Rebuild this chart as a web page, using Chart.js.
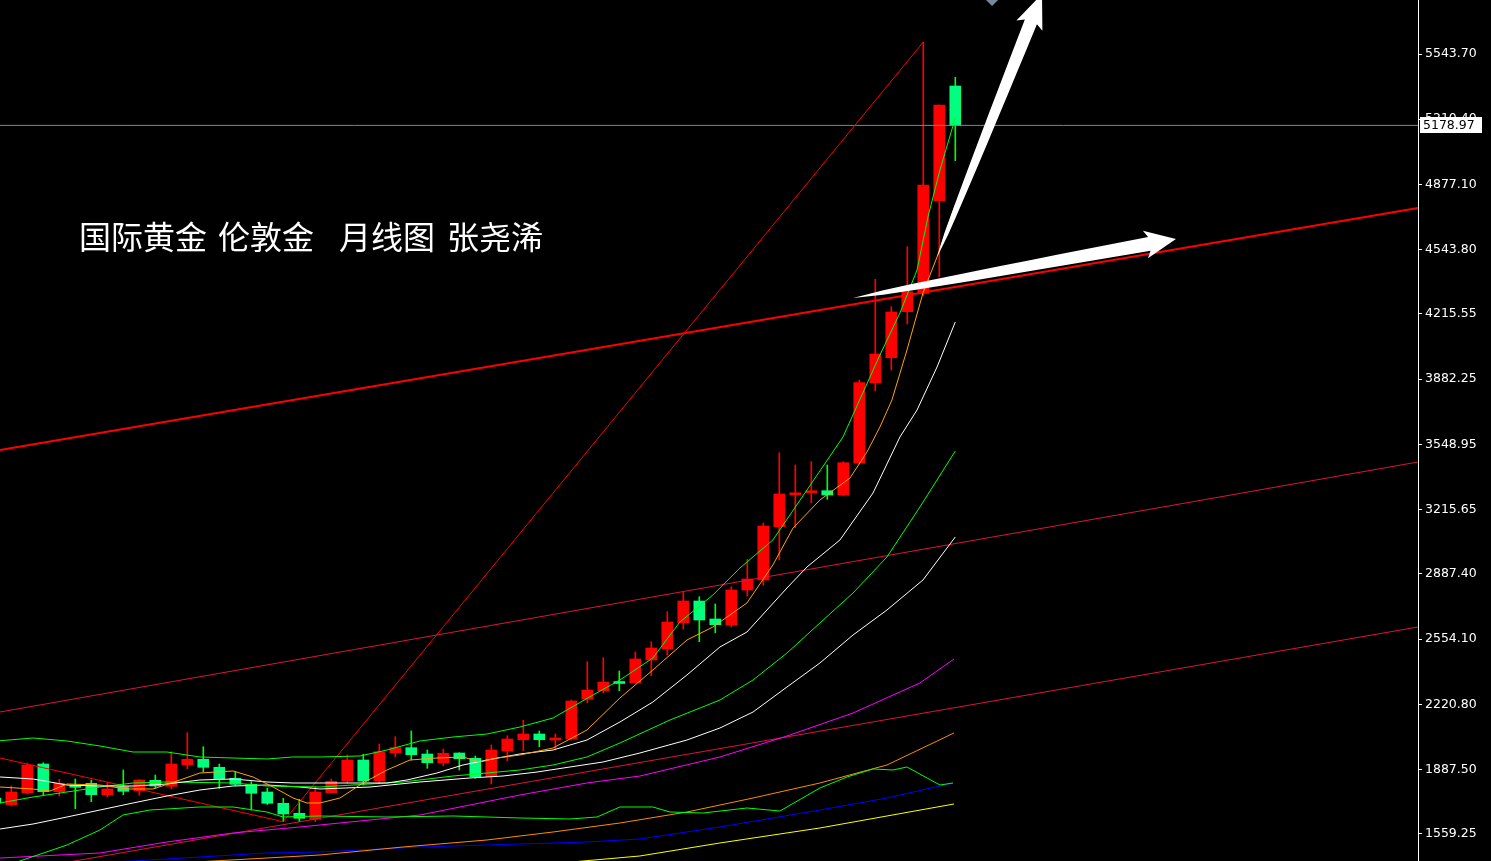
<!DOCTYPE html>
<html>
<head>
<meta charset="utf-8">
<script src="https://cdn.jsdelivr.net/npm/chart.js@4.4.1/dist/chart.umd.min.js"></script>
<style>
html,body{margin:0;padding:0;background:#000;overflow:hidden;}
#wrap{position:relative;width:1491px;height:861px;}
</style>
</head>
<body>
<div id="wrap"><canvas id="gold"></canvas></div>
<script>
// monthly candles, first entry sits at index -1 (partly hidden), last one is the running month
var opens  = [1743.1,1708.9,1770.2,1916.8,1775.3,1804.4,1818.2,1760.0,1800.9,1780.4,1833.5,1802.9,1913.2,1940.8,1900.0,1843.8,1813.1,1773.8,1716.1,1665.0,1634.3,1770.2,1830.0,1937.2,1830.0,1974.5,2000.1,1967.9,1923.4,1973.0,1945.9,1851.9,1983.2,2040.9,2070.1,2039.4,2044.5,2247.3,2291.3,2336.7,2332.1,2448.1,2504.3,2638.6,2749.5,2657.5,2626.9,2805.7,2856.7,3129.0,3292.0,3302.7,3312.9,3290.9,3452.9,3864.6,3992.3,4227.3,4321.3,4794.3,5380.2];
var highs  = [1760.0,1804.4,1921.9,1923.4,1838.6,1840.2,1835.1,1821.3,1886.2,1837.0,1860.6,1979.6,2076.7,2005.2,1916.8,1877.5,1826.4,1792.7,1741.6,1736.5,1800.9,1840.2,1962.8,1966.4,2019.0,2056.3,2085.4,1988.3,1993.4,1974.5,1957.7,2013.9,2061.4,2140.0,2085.4,2070.1,2243.7,2439.4,2459.8,2391.9,2488.9,2541.6,2694.8,2797.0,2771.4,2734.1,2822.5,2962.5,3147.9,3507.0,3444.2,3461.1,3444.2,3461.1,3878.4,4392.8,4252.8,4559.3,5605.0,5283.2,5424.7];
var lows   = [1680.0,1702.3,1763.6,1758.4,1753.3,1688.5,1724.2,1749.8,1760.0,1756.9,1792.7,1790.6,1892.8,1877.5,1792.7,1808.0,1681.8,1710.0,1622.1,1622.1,1622.1,1768.7,1818.2,1809.5,1818.2,1954.1,1937.2,1894.8,1908.1,1886.2,1843.8,1814.6,1933.7,1985.0,2005.2,1988.3,2039.4,2230.0,2281.0,2291.3,2329.0,2367.9,2473.6,2606.4,2541.6,2587.5,2618.2,2775.0,2830.0,2958.9,3123.9,3251.6,3269.0,3285.8,3449.3,3823.7,3929.5,4164.5,4307.5,4406.1,4998.7];
var closes = [1717.6,1773.8,1911.7,1775.3,1818.2,1797.8,1760.0,1789.1,1777.4,1835.1,1804.4,1916.8,1940.8,1900.0,1841.7,1813.1,1767.1,1716.1,1661.4,1639.4,1773.8,1828.4,1937.2,1830.0,1979.6,2000.1,1964.3,1923.4,1971.5,1943.9,1851.9,1988.3,2044.5,2070.1,2040.9,2048.1,2238.6,2294.8,2335.7,2328.0,2453.2,2509.4,2642.2,2749.5,2652.4,2628.4,2805.7,2861.8,3132.6,3296.1,3296.1,3312.9,3290.9,3455.9,3864.6,4011.2,4225.8,4329.5,4874.5,5283.2,5178.97];
var lastPrice = 5178.97;

// moving averages, [bar index, price]
var maLime = [[-0.7,2035.8],[1.36,2049.6],[3.48,2034.3],[5.54,2008.8],[7.61,1978.1],[9.73,1978.1],[11.79,1952.6],[13.86,1947.5],[15.98,1942.4],[17.6,1952.6],[19.29,1952.6],[21.79,1957.7],[23.48,1988.3],[25.54,2034.3],[27.61,2054.7],[29.73,2070.1],[31.79,2105.8],[33.86,2151.8],[34.73,2192.7],[36.36,2269.3],[38.04,2345.9],[40.1,2458.3],[41.79,2642.2],[43.85,2780.1],[45.54,2918.0],[47.6,3061.1],[49.73,3316.5],[51.98,3587.2],[54.29,4006.1],[55.54,4220.7],[56.61,4440.3],[57.29,4711.0],[58.04,4951.1],[59,5216.8]];
var maOrange = [[-0.7,1799.3],[1.36,1789.1],[2.42,1778.9],[3.48,1814.6],[5.54,1809.5],[7.23,1789.1],[8.86,1789.1],[10.54,1835.1],[11.79,1870.8],[13.86,1881.1],[15.11,1850.4],[16.36,1799.3],[17.61,1743.1],[18.48,1717.6],[19.29,1717.6],[20.54,1743.1],[21.98,1819.8],[23.48,1886.2],[24.92,1937.2],[26.61,1947.5],[28.23,1952.6],[29.29,1927.0],[30.36,1947.5],[31.79,1962.8],[33.86,1998.5],[35.98,2090.5],[38.04,2254.0],[40.1,2397.0],[42.23,2550.2],[43.85,2616.7],[45.98,2739.3],[47.6,2933.4],[48.86,3122.4],[50.54,3265.4],[52.42,3377.8],[53.48,3510.6],[54.29,3638.3],[55.04,3776.2],[55.98,4031.6],[56.98,4322.8],[57.86,4506.7],[59,4772.4]];
var maWhite1 = [[-0.7,1850.4],[1.36,1840.2],[3.48,1809.5],[5.54,1804.4],[7.61,1804.4],[9.73,1814.6],[11.79,1835.1],[13.86,1840.2],[15.98,1824.9],[17.61,1819.8],[19.29,1819.8],[23.48,1819.8],[24.73,1835.1],[26.61,1870.8],[28.23,1911.7],[29.73,1937.2],[31.79,1967.9],[33.86,1988.3],[35.98,2039.4],[38.04,2131.4],[40.1,2233.5],[42.23,2371.5],[44.29,2514.5],[45.98,2591.1],[47.23,2703.5],[48.48,2815.9],[49.73,2923.1],[51.79,3061.1],[53.86,3301.2],[55.54,3587.2],[56.61,3725.2],[57.86,3944.8],[59,4174.7]];
var maGreen1 = [[-0.7,1717.6],[1.36,1748.2],[3.48,1773.8],[5.54,1799.3],[7.61,1819.8],[9.73,1824.9],[13.86,1819.8],[15.98,1804.4],[19.29,1799.3],[24.48,1824.9],[27.61,1855.5],[29.73,1870.8],[31.79,1886.2],[33.86,1911.7],[35.98,1952.6],[38.04,2024.1],[41.17,2141.6],[44.29,2243.7],[46.36,2345.9],[48.48,2483.8],[50.54,2637.1],[52.61,2790.3],[54.73,2974.2],[56.79,3229.6],[59,3515.7]];
var maWhite2 = [[-0.7,1584.8],[1.36,1610.3],[3.48,1646.1],[5.54,1681.8],[7.61,1717.6],[9.73,1753.3],[11.79,1784.0],[13.86,1804.4],[15.98,1809.5],[18.04,1799.3],[19.29,1789.1],[22.42,1799.3],[25.54,1824.9],[28.67,1845.3],[30.73,1855.5],[32.86,1875.9],[34.92,1901.5],[36.98,1927.0],[39.29,1973.0],[42.23,2039.4],[44.29,2100.7],[46.36,2182.4],[48.48,2310.2],[50.54,2432.8],[52.61,2575.8],[54.73,2703.5],[56.98,2856.7],[59,3076.4]];
var maGreen2 = [[-0.7,1385.0],[0.54,1421.3],[3.48,1503.0],[5.54,1579.7],[6.98,1656.3],[8.67,1681.8],[11.79,1697.2],[13.86,1697.2],[15.98,1671.6],[16.98,1646.1],[19.29,1651.2],[23.48,1646.1],[27.61,1651.2],[31.79,1641.0],[34.92,1635.9],[36.61,1646.1],[38.04,1697.2],[40.1,1697.2],[41.17,1671.6],[43.23,1666.5],[45.98,1692.0],[48.04,1676.7],[50.54,1794.2],[52.23,1850.4],[53.86,1891.3],[55.11,1886.2],[55.98,1901.5],[58.04,1809.5],[58.86,1819.8]];
var maMagenta = [[-0.7,1436.6],[5.54,1462.2],[9.73,1518.4],[13.86,1564.3],[18.04,1595.0],[25.54,1656.3],[31.79,1758.5],[35.98,1819.8],[39.29,1855.5],[44.29,1952.6],[48.48,2059.8],[52.61,2177.3],[56.79,2330.6],[58.92,2453.2]];
var maOrange2 = [[-0.7,1360.0],[12.61,1421.3],[15.98,1436.6],[19.29,1452.0],[24.48,1492.8],[29.73,1528.6],[33.86,1569.4],[38.04,1615.4],[42.23,1671.6],[46.36,1743.1],[50.54,1819.8],[54.73,1911.7],[58.92,2075.2]];
var maBlue = [[-0.7,1390.6],[7.61,1421.3],[11.79,1441.7],[15.98,1462.2],[19.29,1467.3],[25.54,1492.8],[31.79,1508.1],[35.98,1518.4],[39.29,1533.7],[44.29,1595.0],[50.54,1681.8],[54.73,1743.1],[58.86,1819.8]];
var maYellow = [[29.29,1375.0],[35.73,1421.3],[39.29,1446.9],[44.29,1513.3],[50.54,1589.9],[58.92,1712.5]];

// hand drawn trend lines
var channelMain = [[-0.706,3520.8],[87.92,4757.0]];
var channelMid  = [[-0.706,2182.4],[87.92,3459.5]];
var channelLow  = [[-0.706,1354.9],[87.92,2616.7]];
var zigzag      = [[-0.706,1947.5],[17,1622.1],[57,5605.0]];

// white arrows: from [index, price] to [index, price]
var arrows = [
  {from:[57.86,4506.7], to:[64.42,5850.2], shaft:6.5, head:14, headLen:30},
  {from:[52.61,4297.3], to:[72.79,4598.7], shaft:7, head:14, headLen:27}
];
var marker = [61.3, 5824.7];

var yTicks = [5543.70,5210.40,4877.10,4543.80,4215.55,3882.25,3548.95,3215.65,2887.40,2554.10,2220.80,1887.50,1559.25];
var titleParts = ['国际黄金','伦敦金','月线图','张尧浠'];

var wickData = [], bodyData = [], bodyColors = [], wickColors = [];
for (var k = 0; k < opens.length; k++) {
  var up = closes[k] >= opens[k];
  wickData.push({x: k - 1, y: [lows[k], highs[k]]});
  bodyData.push({x: k - 1, y: [opens[k], closes[k]]});
  bodyColors.push(up ? '#ff0000' : '#00ff7f');
  wickColors.push(up ? '#ff0000' : '#00ff00');
}

function lineSet(pts, color, width) {
  return {
    type: 'line',
    data: pts.map(function(p){ return {x: p[0], y: p[1]}; }),
    borderColor: color,
    borderWidth: width || 1,
    pointRadius: 0,
    fill: false,
    tension: 0,
    order: 0
  };
}

var bgPlugin = {
  id: 'bg',
  beforeDraw: function(chart) {
    var c = chart.ctx;
    c.save();
    c.fillStyle = '#000';
    c.fillRect(0, 0, chart.width, chart.height);
    c.restore();
  }
};

function drawArrow(c, x0, y0, x1, y1, sw, hw, hl) {
  var dx = x1 - x0, dy = y1 - y0, len = Math.sqrt(dx*dx + dy*dy);
  var ux = dx/len, uy = dy/len, nx = -uy, ny = ux;
  var shaftLen = len - hl;
  var left = [], right = [];
  for (var t = 0; t <= 1.0001; t += 0.1) {
    var w = sw * Math.sqrt(t);
    var px = x0 + ux*shaftLen*t, py = y0 + uy*shaftLen*t;
    left.push([px + nx*w, py + ny*w]);
    right.push([px - nx*w, py - ny*w]);
  }
  var bx = x0 + ux*shaftLen, by = y0 + uy*shaftLen;
  c.beginPath();
  c.moveTo(x0, y0);
  left.forEach(function(p){ c.lineTo(p[0], p[1]); });
  c.lineTo(bx + nx*hw - ux*4, by + ny*hw - uy*4);
  c.lineTo(x1, y1);
  c.lineTo(bx - nx*hw - ux*4, by - ny*hw - uy*4);
  for (var i = right.length - 1; i >= 0; i--) c.lineTo(right[i][0], right[i][1]);
  c.closePath();
  c.fill();
}

var overlayPlugin = {
  id: 'overlay',
  afterDatasetsDraw: function(chart) {
    var c = chart.ctx, xs = chart.scales.x, ys = chart.scales.y;
    c.save();
    c.fillStyle = '#ffffff';
    arrows.forEach(function(a){
      drawArrow(c, xs.getPixelForValue(a.from[0]), ys.getPixelForValue(a.from[1]),
                   xs.getPixelForValue(a.to[0]), ys.getPixelForValue(a.to[1]),
                   a.shaft, a.head, a.headLen);
    });
    // title
    c.font = '32px "Noto Sans CJK SC", "Noto Sans", sans-serif';
    c.textBaseline = 'middle';
    c.fillStyle = '#ffffff';
    var tx = [79, 218, 339, 447];
    titleParts.forEach(function(s, i){ c.fillText(s, tx[i], 237); });
    c.restore();
  },
  afterDraw: function(chart) {
    var c = chart.ctx, ys = chart.scales.y, area = chart.chartArea;
    var py = Math.round(ys.getPixelForValue(lastPrice));
    c.save();
    c.fillStyle = '#ffffff';
    c.fillRect(area.right + 2, py - 8, 62, 16);
    c.fillStyle = '#000000';
    c.font = '12.5px "DejaVu Sans", sans-serif';
    c.textBaseline = 'middle';
    c.fillText(lastPrice.toFixed(2), area.right + 5, py + 1);
    c.restore();
  }
};

var datasets = [
  lineSet(maLime, '#00ff00'),
  lineSet(maOrange, '#ffa500'),
  lineSet(maWhite1, '#ffffff'),
  lineSet(maGreen1, '#00ff00'),
  lineSet(maWhite2, '#ffffff'),
  lineSet(maGreen2, '#00ff00'),
  lineSet(maMagenta, '#ff00ff'),
  lineSet(maOrange2, '#ff8c00'),
  lineSet(maBlue, '#0000ff'),
  lineSet(maYellow, '#ffff00'),
  lineSet(channelMain, '#ff0000', 2),
  lineSet(channelMid, '#dc143c'),
  lineSet(channelLow, '#dc143c'),
  lineSet(zigzag, '#ff0000'),
  lineSet([[-0.706, lastPrice],[87.92, lastPrice]], '#778899'),
  {
    type: 'line',
    data: [{x: marker[0], y: marker[1]}],
    showLine: false,
    pointStyle: 'rectRot',
    pointRadius: 7,
    pointBackgroundColor: '#778899',
    pointBorderWidth: 0,
    clip: false,
    order: 0
  },
  {
    type: 'bar',
    data: bodyData,
    backgroundColor: bodyColors,
    borderWidth: 0,
    barThickness: 11,
    minBarLength: 2,
    grouped: false,
    order: 2
  },
  {
    type: 'bar',
    data: wickData,
    backgroundColor: wickColors,
    borderWidth: 0,
    barThickness: 1,
    grouped: false,
    order: 3
  }
];

new Chart(document.getElementById('gold').getContext('2d'), {
  type: 'bar',
  data: {datasets: datasets},
  options: {
    responsive: true,
    maintainAspectRatio: false,
    animation: false,
    devicePixelRatio: 1,
    events: [],
    layout: {padding: 0, autoPadding: false},
    plugins: {legend: {display: false}, tooltip: {enabled: false}},
    scales: {
      x: {type: 'linear', display: false, min: -0.706, max: 87.92, offset: false},
      y: {
        position: 'right',
        min: 1421.3,
        max: 5819.55,
        afterBuildTicks: function(s){ s.ticks = yTicks.map(function(v){ return {value: v}; }); },
        afterFit: function(s){ s.width = 73; s.paddingTop = 0; s.paddingBottom = 0; },
        grid: {drawOnChartArea: false, drawTicks: true, tickLength: 4, tickColor: '#ffffff', color: '#ffffff'},
        border: {display: true, color: '#ffffff', width: 1},
        ticks: {
          color: '#ffffff',
          autoSkip: false,
          padding: 3,
          font: {family: 'DejaVu Sans', size: 12.5},
          callback: function(v){ return Number(v).toFixed(2); }
        }
      }
    }
  },
  plugins: [bgPlugin, overlayPlugin]
});
</script>
</body>
</html>
